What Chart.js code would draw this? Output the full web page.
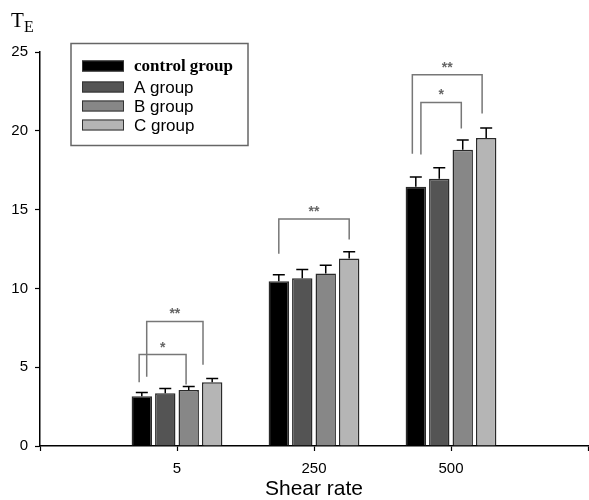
<!DOCTYPE html>
<html>
<head>
<meta charset="utf-8">
<script src="https://cdn.jsdelivr.net/npm/chart.js@4.4.0/dist/chart.umd.min.js"></script>
<style>
  body { margin: 0; background: #fff; }
  #wrap { width: 589px; height: 500px; position: relative; }
</style>
</head>
<body>
<div id="wrap"><canvas id="chart"></canvas></div>
<script>
// categories on the x axis (empty slots at the ends leave room like the original axis)
const categories = ["", "5", "250", "500", ""];
const groupNames = ["control group", "A group", "B group", "C group"];
const groupColors = ["#000000", "#545454", "#878787", "#b5b5b5"];

// mean values per group
const controlVals = [null, 3.15, 10.45, 16.45, null];
const aVals = [null, 3.35, 10.65, 16.95, null];
const bVals = [null, 3.55, 10.95, 18.8, null];
const cVals = [null, 4.05, 11.9, 19.55, null];

// error bar sizes (upper only)
const controlErr = [null, 0.25, 0.42, 0.62, null];
const aErr = [null, 0.3, 0.55, 0.7, null];
const bErr = [null, 0.23, 0.52, 0.62, null];
const cErr = [null, 0.23, 0.42, 0.62, null];

const yTicks = [0, 5, 10, 15, 20, 25];

// significance brackets: category index, dataset from/to, shift (fraction of bar width),
// top of bracket and bottom of each leg in data units
const brackets = [
  { cat: 1, from: 0, to: 2, fromShift: -0.13, toShift: -0.13, top: 5.8, fromEnd: 4.05, toEnd: 3.9, label: "*" },
  { cat: 1, from: 0, to: 3, fromShift: 0.24, toShift: -0.45, top: 7.9, fromEnd: 4.4, toEnd: 5.15, label: "**" },
  { cat: 2, from: 0, to: 3, fromShift: 0, toShift: 0, top: 14.4, fromEnd: 12.2, toEnd: 13.1, label: "**" },
  { cat: 3, from: 0, to: 3, fromShift: -0.17, toShift: -0.2, top: 23.55, fromEnd: 18.55, toEnd: 21.1, label: "**" },
  { cat: 3, from: 0, to: 2, fromShift: 0.25, toShift: -0.07, top: 21.8, fromEnd: 18.5, toEnd: 20.15, label: "*" },
];

const seriesVals = [controlVals, aVals, bVals, cVals];
const seriesErr = [controlErr, aErr, bErr, cErr];

const errorBars = {
  id: "errorBars",
  afterDatasetsDraw(chart) {
    const ctx = chart.ctx;
    const y = chart.scales.y;
    ctx.save();
    ctx.strokeStyle = "#000";
    ctx.lineWidth = 1.5;
    seriesVals.forEach((vals, i) => {
      const meta = chart.getDatasetMeta(i);
      meta.data.forEach((bar, j) => {
        if (vals[j] == null) return;
        const yTop = y.getPixelForValue(vals[j] + seriesErr[i][j]);
        ctx.beginPath();
        ctx.moveTo(bar.x, bar.y);
        ctx.lineTo(bar.x, yTop);
        ctx.moveTo(bar.x - 6, yTop);
        ctx.lineTo(bar.x + 6, yTop);
        ctx.stroke();
      });
    });
    ctx.restore();
  },
};

const sigBrackets = {
  id: "sigBrackets",
  afterDatasetsDraw(chart) {
    const ctx = chart.ctx;
    const y = chart.scales.y;
    ctx.save();
    ctx.strokeStyle = "#777";
    ctx.lineWidth = 1.5;
    ctx.fillStyle = "#666";
    ctx.font = "bold 14px 'Liberation Sans', Arial";
    ctx.textAlign = "center";
    ctx.textBaseline = "alphabetic";
    brackets.forEach((b) => {
      const barA = chart.getDatasetMeta(b.from).data[b.cat];
      const barB = chart.getDatasetMeta(b.to).data[b.cat];
      const x1 = barA.x + b.fromShift * barA.width;
      const x2 = barB.x + b.toShift * barB.width;
      const yt = y.getPixelForValue(b.top);
      ctx.beginPath();
      ctx.moveTo(x1, y.getPixelForValue(b.fromEnd));
      ctx.lineTo(x1, yt);
      ctx.lineTo(x2, yt);
      ctx.lineTo(x2, y.getPixelForValue(b.toEnd));
      ctx.stroke();
      ctx.fillText(b.label, (x1 + x2) / 2, yt - 3);
    });
    ctx.restore();
  },
};

const legendBox = {
  id: "legendBox",
  afterDraw(chart) {
    const ctx = chart.ctx;
    ctx.save();
    // y axis title: T with subscript E
    ctx.fillStyle = "#000";
    ctx.textBaseline = "alphabetic";
    ctx.font = "21px 'Liberation Serif', 'Times New Roman', serif";
    ctx.fillText("T", 11, 27);
    ctx.font = "16px 'Liberation Serif', 'Times New Roman', serif";
    ctx.fillText("E", 24, 32);

    // legend frame
    ctx.strokeStyle = "#666";
    ctx.lineWidth = 1.5;
    ctx.strokeRect(71, 43.5, 177, 102);
    const rows = [66, 87, 106, 125];
    groupNames.forEach((name, i) => {
      ctx.fillStyle = groupColors[i];
      ctx.fillRect(82, rows[i] - 5.5, 42, 11);
      ctx.strokeStyle = "#333";
      ctx.lineWidth = 1;
      ctx.strokeRect(82.5, rows[i] - 5, 41, 10);
      ctx.fillStyle = "#000";
      ctx.textBaseline = "middle";
      ctx.font = i === 0
        ? "bold 17px 'Liberation Serif', 'Times New Roman', serif"
        : "17px 'Liberation Sans', Arial, sans-serif";
      ctx.fillText(name, 134, rows[i] + 1);
    });
    ctx.restore();
  },
};

new Chart(document.getElementById("chart"), {
  type: "bar",
  data: {
    labels: categories,
    datasets: groupNames.map((name, i) => ({
      label: name,
      data: seriesVals[i],
      backgroundColor: groupColors[i],
      borderColor: "#2a2a2a",
      borderWidth: 1.5,
      categoryPercentage: 0.685,
      barPercentage: 0.87,
    })),
  },
  options: {
    responsive: true,
    maintainAspectRatio: false,
    animation: false,
    layout: { padding: { top: 52, right: 1, left: 0, bottom: 0 } },
    plugins: {
      legend: { display: false },
      tooltip: { enabled: false },
    },
    scales: {
      x: {
        offset: false,
        grid: {
          offset: false,
          drawOnChartArea: false,
          drawTicks: true,
          tickLength: 5,
          tickColor: "#000",
          tickWidth: 1.2,
        },
        border: { display: true, color: "#000", width: 1.5 },
        ticks: {
          color: "#000",
          font: { family: "'Liberation Sans', Arial", size: 15 },
          padding: 9,
          maxRotation: 0,
          autoSkip: false,
        },
        title: {
          display: true,
          text: "Shear rate",
          color: "#000",
          font: { family: "'Liberation Sans', Arial", size: 21, lineHeight: 1 },
          padding: { top: -6, bottom: 0 },
        },
        afterFit(s) {
          s.height = 54;
          s.paddingLeft = 0;
          s.paddingRight = 0;
        },
      },
      y: {
        min: 0,
        max: 25,
        afterBuildTicks(s) { s.ticks = yTicks.map((v) => ({ value: v })); },
        grid: {
          drawOnChartArea: false,
          drawTicks: true,
          tickLength: 5,
          tickColor: "#000",
          tickWidth: 1.2,
        },
        border: { display: true, color: "#000", width: 1.5 },
        ticks: {
          color: "#000",
          font: { family: "'Liberation Sans', Arial", size: 15 },
          padding: 7,
        },
        afterFit(s) { s.width = 40; },
      },
    },
  },
  plugins: [errorBars, sigBrackets, legendBox],
});
</script>
</body>
</html>
